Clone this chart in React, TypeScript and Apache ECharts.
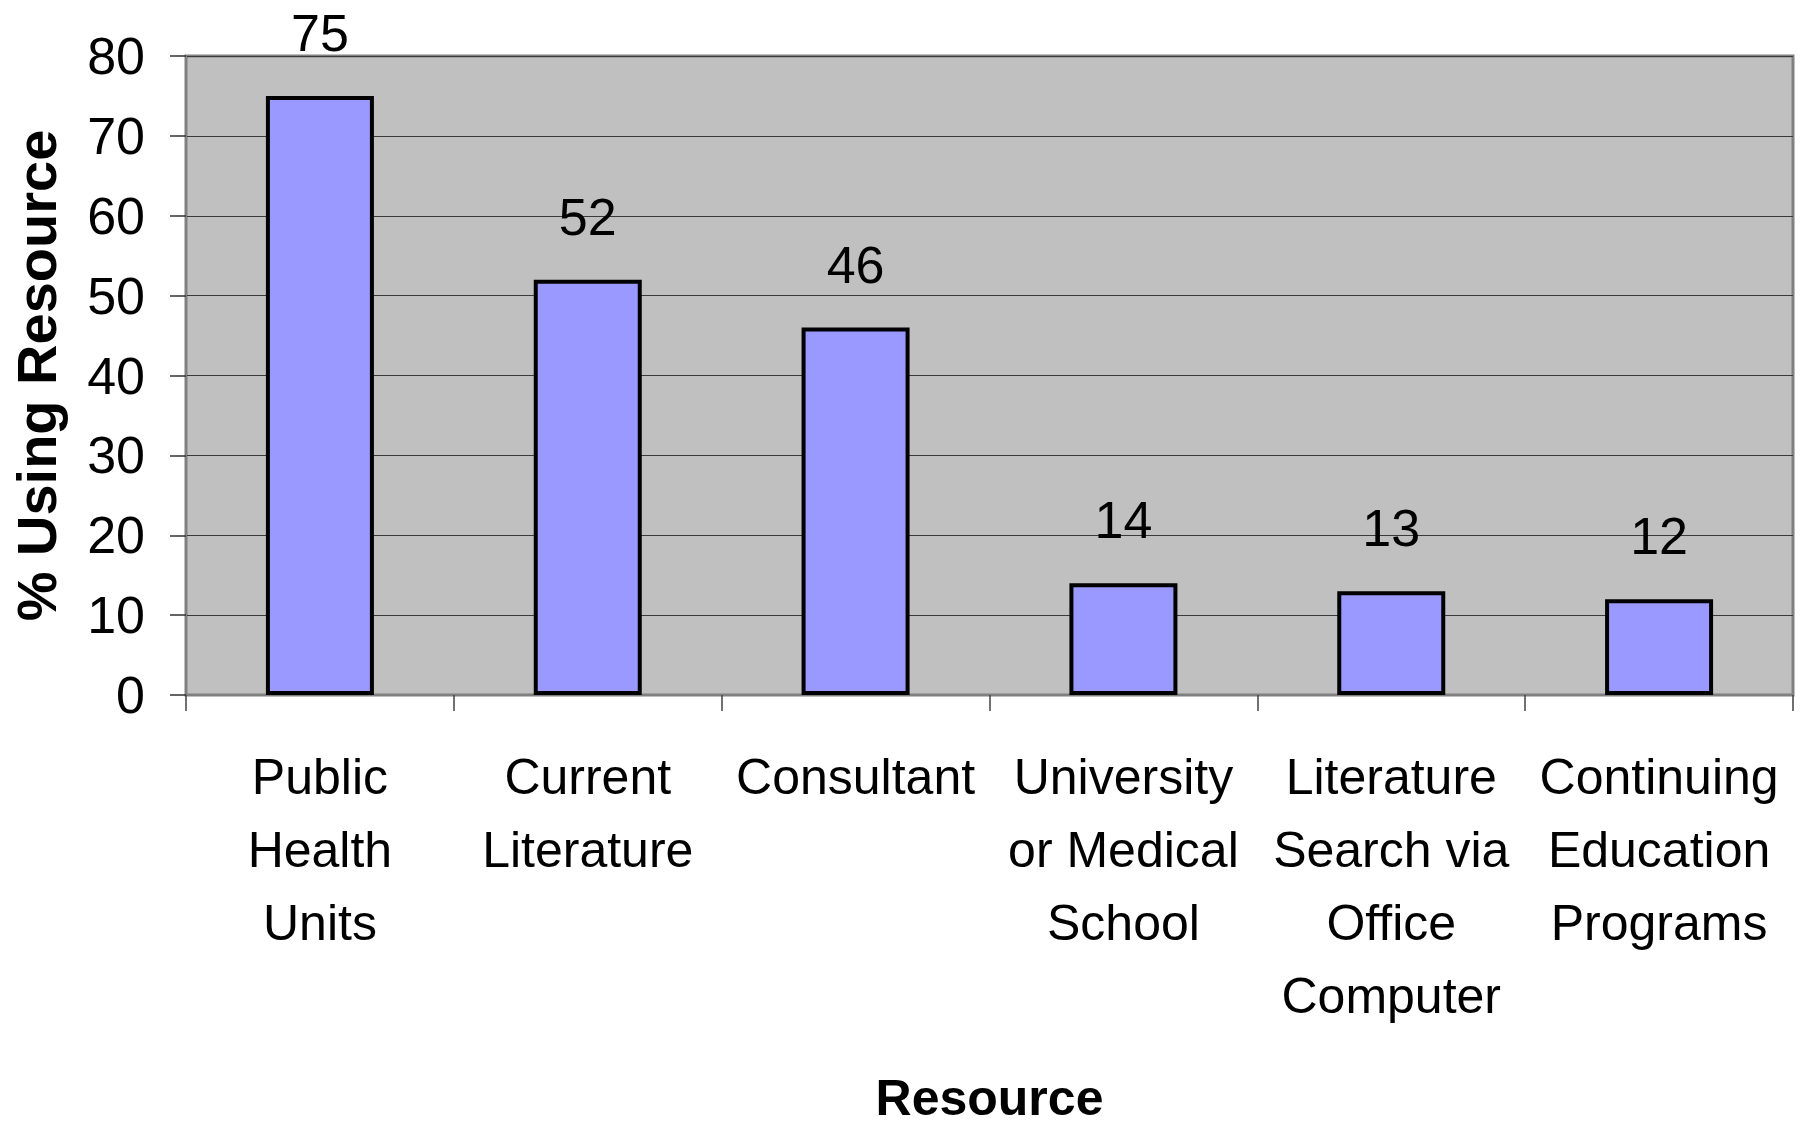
import React, { useEffect, useRef } from "react";
import * as echarts from "echarts";

const categories = [
  "Public\nHealth\nUnits",
  "Current\nLiterature",
  "Consultant",
  "University\nor Medical\nSchool",
  "Literature\nSearch via\nOffice\nComputer",
  "Continuing\nEducation\nPrograms",
];
const values = [75, 52, 46, 14, 13, 12];
const yTicks = { min: 0, max: 80, interval: 10 };
const xTitle = "Resource";
const yTitle = "% Using Resource";

const FONT = "'Liberation Sans', Arial, sans-serif";

export default function App() {
  const ref = useRef<HTMLDivElement>(null);
  useEffect(() => {
    document.body.style.margin = "0";
    const chart = echarts.init(ref.current!, null, { renderer: "svg" });
    chart.setOption({
      animation: false,
      backgroundColor: "#ffffff",
      grid: {
        left: 186,
        right: 11,
        top: 56,
        bottom: 428,
        show: true,
        backgroundColor: "#C0C0C0",
        borderColor: "#808080",
        borderWidth: 3,
      },
      xAxis: {
        type: "category",
        data: categories,
        name: xTitle,
        nameLocation: "middle",
        nameGap: 378,
        nameTextStyle: {
          fontFamily: FONT,
          fontSize: 50,
          fontWeight: "bold",
          color: "#000",
        },
        axisLine: { show: true, lineStyle: { color: "#808080", width: 2 } },
        axisTick: { show: true, length: 16, lineStyle: { color: "#404040", width: 1.5 } },
        axisLabel: {
          interval: 0,
          margin: 45,
          fontFamily: FONT,
          fontSize: 50,
          lineHeight: 73,
          color: "#000",
        },
      },
      yAxis: {
        type: "value",
        min: yTicks.min,
        max: yTicks.max,
        interval: yTicks.interval,
        name: yTitle,
        nameLocation: "middle",
        nameRotate: 90,
        nameGap: 122,
        nameTextStyle: {
          fontFamily: FONT,
          fontSize: 56,
          fontWeight: "bold",
          color: "#000",
        },
        axisLine: { show: true, lineStyle: { color: "#808080", width: 2 } },
        axisTick: { show: true, length: 16, lineStyle: { color: "#303030", width: 1.5 } },
        axisLabel: {
          margin: 41,
          fontFamily: FONT,
          fontSize: 52,
          color: "#000",
        },
        splitLine: { show: true, lineStyle: { color: "#3a3a3a", width: 1.2 } },
      },
      series: [
        {
          type: "bar",
          data: values,
          barWidth: 108,
          itemStyle: { color: "#9999FF", borderColor: "#000000", borderWidth: 4 },
          label: {
            show: true,
            position: "top",
            distance: 37,
            fontFamily: FONT,
            fontSize: 52,
            lineHeight: 52,
            color: "#000",
          },
        },
      ],
    });
    return () => chart.dispose();
  }, []);
  return <div ref={ref} style={{ width: 1804, height: 1128 }} />;
}
